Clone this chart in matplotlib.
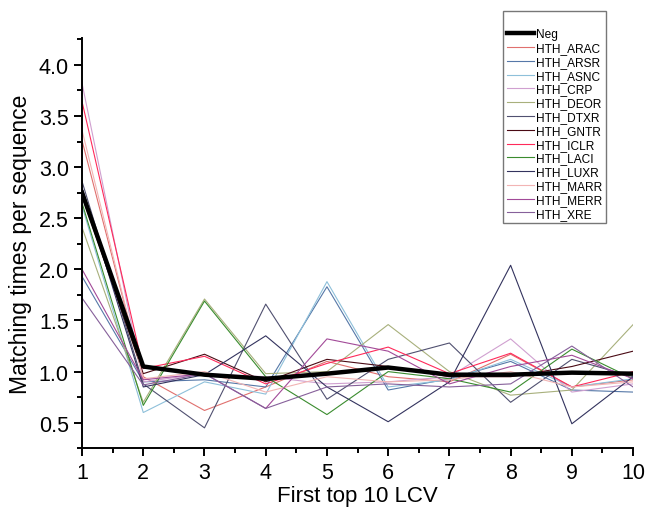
import numpy as np
from matplotlib import pyplot as plt
from matplotlib.ticker import MultipleLocator

plt.rcParams['font.family'] = ['Liberation Sans', 'DejaVu Sans']

lcv = np.arange(1, 11)

neg = [2.75, 1.05, 0.97, 0.93, 0.98, 1.04, 0.97, 0.97, 0.99, 0.98]
arac = [3.26, 0.95, 0.62, 0.85, 1.10, 0.95, 0.90, 1.17, 0.85, 0.92]
arsr = [1.93, 0.90, 0.92, 0.85, 1.83, 0.82, 0.93, 1.10, 0.82, 0.80]
asnc = [2.62, 0.60, 0.90, 0.78, 1.88, 0.85, 0.92, 1.12, 0.85, 0.93]
crp = [3.82, 0.90, 0.98, 0.95, 0.88, 0.90, 0.95, 1.32, 0.80, 0.88]
deor = [2.41, 0.70, 1.71, 0.98, 1.00, 1.46, 1.00, 0.77, 0.82, 1.46]
dtxr = [2.86, 0.88, 0.45, 1.66, 0.73, 1.12, 1.28, 0.70, 1.12, 0.95]
gntr = [2.72, 0.98, 1.17, 0.90, 1.12, 1.05, 0.95, 0.95, 1.05, 1.20]
iclr = [3.64, 1.03, 1.15, 0.88, 1.08, 1.24, 0.98, 1.18, 0.85, 1.00]
laci = [2.65, 0.67, 1.69, 0.95, 0.58, 1.00, 0.93, 0.80, 1.22, 0.93]
luxr = [2.80, 0.85, 0.97, 1.35, 0.85, 0.51, 0.90, 2.04, 0.49, 0.95]
marr = [3.36, 0.93, 1.00, 0.80, 0.95, 0.90, 0.92, 1.00, 0.85, 0.90]
merr = [2.00, 0.92, 0.98, 0.64, 1.32, 1.20, 0.88, 1.05, 1.16, 0.93]
xre = [1.72, 0.87, 0.98, 0.64, 0.85, 0.88, 0.85, 0.88, 1.25, 0.85]

names = ['HTH_ARAC', 'HTH_ARSR', 'HTH_ASNC', 'HTH_CRP', 'HTH_DEOR', 'HTH_DTXR',
         'HTH_GNTR', 'HTH_ICLR', 'HTH_LACI', 'HTH_LUXR', 'HTH_MARR', 'HTH_MERR',
         'HTH_XRE']
series = [arac, arsr, asnc, crp, deor, dtxr, gntr, iclr, laci, luxr, marr, merr, xre]
colors = ['#e0706e', '#5678a8', '#8ec0da', '#d0a0d0', '#a8b07c', '#505070',
          '#4a0a14', '#ff2a5a', '#3a8c2e', '#33335e', '#f2b4b4', '#a24a98',
          '#86609a']

fig = plt.figure(figsize=(6.46, 5.10), dpi=100)
ax = fig.add_axes([0.127, 0.119, 0.853, 0.804])

ax.plot(lcv, neg, color='black', linewidth=3.2, label='Neg', zorder=5)
for vals, name, c in zip(series, names, colors):
    ax.plot(lcv, vals, color=c, linewidth=0.8, label=name)

ax.set_xlim(1, 10)
ax.set_ylim(0.25, 4.26)
ax.xaxis.set_major_locator(MultipleLocator(1))
ax.xaxis.set_minor_locator(MultipleLocator(0.5))
ax.yaxis.set_minor_locator(MultipleLocator(0.25))
ax.set_yticks(np.arange(0.5, 4.01, 0.5))
ax.yaxis.set_major_formatter(plt.FormatStrFormatter('%.1f'))

for s in ['top', 'right']:
    ax.spines[s].set_visible(False)
for s in ['left', 'bottom']:
    ax.spines[s].set_linewidth(1.4)
ax.tick_params(which='major', direction='out', length=6, width=1.4, labelsize=15.5)
ax.tick_params(which='minor', direction='out', length=3.5, width=1.4)

ax.set_xlabel('First top 10 LCV', fontsize=16, labelpad=2)
ax.set_ylabel('Matching times per sequence', fontsize=16.5, labelpad=5)

leg = fig.legend(loc='upper left', bbox_to_anchor=(503 / 646, 1 - 12 / 510),
                 fontsize=8.6, frameon=True, fancybox=False, handlelength=2.3,
                 handletextpad=0.15, labelspacing=0.15, borderpad=0.3,
                 borderaxespad=0, title=' ', title_fontsize=9)
leg.get_frame().set_edgecolor('#555555')
leg.get_frame().set_linewidth(1.0)

fig.savefig('out.png', dpi=100)
